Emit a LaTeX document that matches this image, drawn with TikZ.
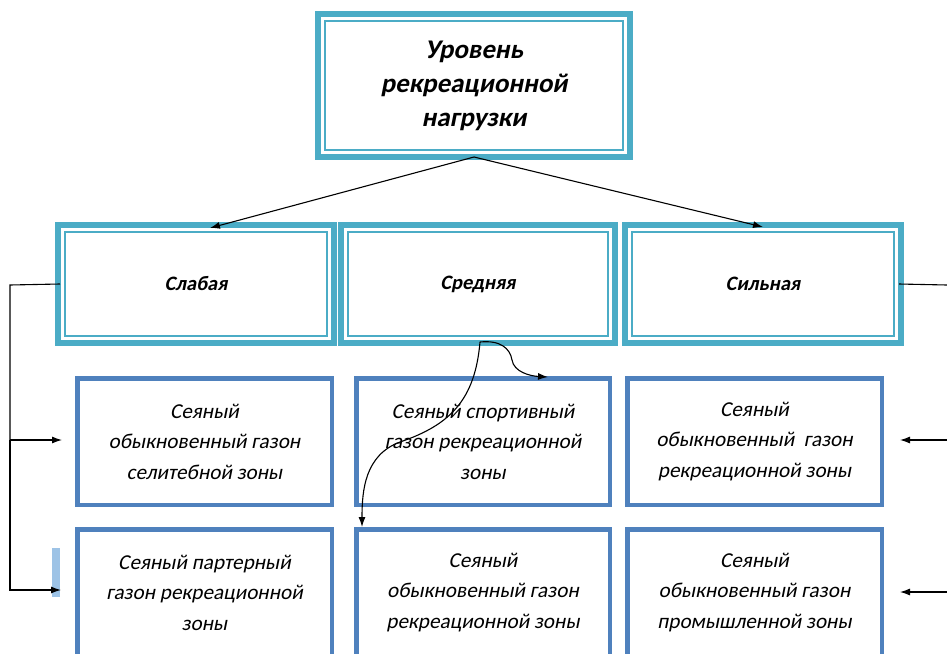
\documentclass[tikz,border=0pt]{standalone}
\usepackage{fontspec}
\setmainfont{Carlito}
\newfontfamily\slantfont{Carlito}[FakeSlant=0.2]
\usetikzlibrary{arrows.meta,calc}
\definecolor{teal5}{HTML}{4BACC6}
\definecolor{blue1}{HTML}{4F81BD}
\definecolor{lblue}{HTML}{9DC3E6}
\tikzset{
  tealbox/.style={draw=teal5, line width=6pt, minimum width=#1, inner sep=0pt, align=center},
  lvlbox/.style={tealbox=276pt, minimum height=118pt, font=\slantfont\fontsize{20.5}{24}\selectfont\bfseries},
  zonebox/.style={draw=blue1, line width=4.5pt, minimum width=254.5pt, minimum height=126.5pt, inner sep=0pt, align=center, font=\slantfont\fontsize{21.2}{30.5}\selectfont},
  innerframe/.style={draw=teal5, line width=1.4pt},
  conn/.style={draw=black, line width=1.1pt},
  arr/.style={conn, -{Latex[length=10pt,width=7pt]}}
}
\begin{document}
\begin{tikzpicture}[x=1pt,y=-1pt]
\useasboundingbox (0,0) rectangle (947,653);
\clip (0,0) rectangle (947,653);
% top box
\node[tealbox=312pt, minimum height=143pt, font=\slantfont\fontsize{27}{34}\selectfont\bfseries] (top) at (474,85.5) {Уровень\\рекреационной\\нагрузки};
% level boxes
\node[lvlbox] (sl) at (196,284) {Слабая};
\node[lvlbox, minimum width=274pt] (sr) at (478,284) {Средняя};
\node[lvlbox] (si) at (763,284) {Сильная};
\foreach \n in {top,sl,sr,si}{
  \draw[innerframe] ($(\n.north west)+(10,10)$) rectangle ($(\n.south east)+(-10,-10)$);
}
% zone boxes
\node[zonebox] (z11) at (204.5,441.5) {Сеяный\\обыкновенный газон\\селитебной зоны};
\node[zonebox, minimum width=253.5pt] (z12) at (483,441.5) {Сеяный спортивный\\газон рекреационной\\зоны};
\node[zonebox] (z13) at (754.5,441.5) {Сеяный\\обыкновенный\ \ газон\\рекреационной зоны};
\node[zonebox] (z21) at (204.5,592.5) {Сеяный партерный\\газон рекреационной\\зоны};
\node[zonebox, minimum width=253.5pt] (z22) at (483,592.5) {Сеяный\\обыкновенный газон\\рекреационной зоны};
\node[zonebox] (z23) at (754.5,592.5) {Сеяный\\обыкновенный газон\\промышленной зоны};
% light blue mark
\fill[lblue] (52,548) rectangle (60,597);
% coordinates
\coordinate (topb) at (474,157);
\coordinate (slt) at (210,228);
\coordinate (sit) at (763,227);
\coordinate (lc) at (10,285);
\coordinate (lb) at (10,590);
\coordinate (la1) at (62,440);
\coordinate (la2) at (61,590);
\coordinate (rc) at (947,285);
\coordinate (rs1) at (947,440);
\coordinate (re1) at (900,440);
\coordinate (rs2) at (947,592);
\coordinate (re2) at (900,592);
\coordinate (ms) at (480,342);
\coordinate (me1) at (548,377);
\coordinate (me2) at (362,527);
% top arrows
\draw[arr] (topb) -- (slt);
\draw[arr] (topb) -- (sit);
% left connector
\draw[conn] ([xshift=5pt]sl.west) -- (lc) -- (10,440);
\draw[arr] (10,440) -- (lb) -- (la2);
\draw[arr] (10,440) -- (la1);
% right connector
\draw[conn] ([xshift=-5pt]si.east) -- (rc);
\draw[arr] (rs1) -- (re1);
\draw[arr] (rs2) -- (re2);
% curved arrows
\draw[arr] (ms) .. controls (500,340) and (510,348) .. (512,360) .. controls (514,372) and (530,376) .. (me1);
\draw[arr] (ms) .. controls (475,400) and (450,425) .. (400,442) .. controls (365,455) and (362,490) .. (me2);
\end{tikzpicture}
\end{document}
